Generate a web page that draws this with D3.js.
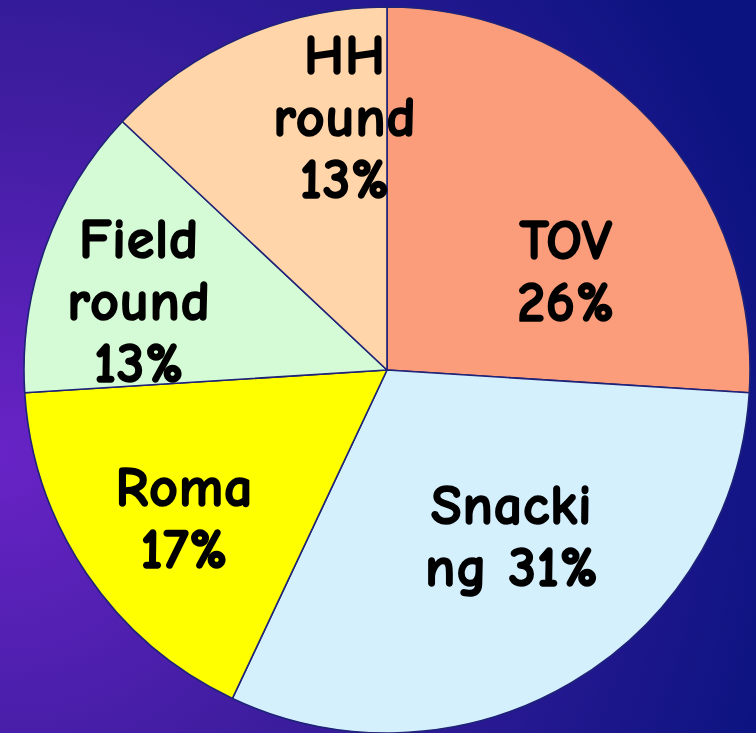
<!DOCTYPE html>
<html>
<head>
<meta charset="utf-8">
<script src="https://cdn.jsdelivr.net/npm/d3@7"></script>
<style>
  html, body { margin: 0; padding: 0; background: #0c1482; }
  svg { display: block; }
</style>
</head>
<body>
<div id="chart"></div>
<script>
// data
const categories = ['TOV', 'Snacking', 'Roma', 'Field round', 'HH round'];
const shares = [26, 31, 17, 13, 13];
const labelLines = [
  ['TOV', '26%'],
  ['Snacki', 'ng 31%'],
  ['Roma', '17%'],
  ['Field', 'round', '13%'],
  ['HH', 'round', '13%'],
];
const sliceColors = ['#fb9d7b', '#d5f0fd', '#ffff00', '#d5fbd6', '#ffd5a9'];

const width = 756;
const height = 733;
const radius = 363;
const cx = 387;
const cy = 370;
const lineHeight = 62;

// per-slice label placement (angle nudge in degrees, radius factor)
const labelNudge = [[14, 0.565], [-6.5, 0.57], [-1.8, 0.69], [-4, 0.71], [14, 0.71]];

const svg = d3.select('#chart')
  .append('svg')
  .attr('width', width)
  .attr('height', height);

// background
const defs = svg.append('defs');
const bg = defs.append('radialGradient')
  .attr('id', 'bg')
  .attr('gradientUnits', 'userSpaceOnUse')
  .attr('cx', 0).attr('cy', height * 0.62)
  .attr('r', 820);
bg.append('stop').attr('offset', '0%').attr('stop-color', '#6823c6');
bg.append('stop').attr('offset', '45%').attr('stop-color', '#3e1d9f');
bg.append('stop').attr('offset', '100%').attr('stop-color', '#0a1380');

svg.append('rect')
  .attr('width', width)
  .attr('height', height)
  .attr('fill', 'url(#bg)');

const g = svg.append('g').attr('transform', `translate(${cx},${cy})`);

const pie = d3.pie().sort(null).value((d) => d);
const arcs = pie(shares);

const arc = d3.arc().innerRadius(0).outerRadius(radius);

g.selectAll('path.slice')
  .data(arcs)
  .join('path')
  .attr('class', 'slice')
  .attr('d', arc)
  .attr('fill', (d, i) => sliceColors[i])
  .attr('stroke', '#1f2378')
  .attr('stroke-width', 1.6)
  .attr('stroke-linejoin', 'round');

// labels
const labels = g.selectAll('text.label')
  .data(arcs)
  .join('text')
  .attr('class', 'label')
  .attr('text-anchor', 'middle')
  .attr('font-family', '"Comic Sans MS", "Comic Neue", "DejaVu Sans", sans-serif')
  .attr('font-weight', 'bold')
  .attr('font-size', 56)
  .attr('letter-spacing', 0.8)
  .attr('fill', '#000')
  .attr('stroke', '#000')
  .attr('stroke-width', 1.6)
  .attr('stroke-linejoin', 'round')
  .attr('transform', (d, i) => {
    const mid = (d.startAngle + d.endAngle) / 2 + (labelNudge[i][0] * Math.PI) / 180;
    const r = radius * labelNudge[i][1];
    return `translate(${r * Math.sin(mid)},${-r * Math.cos(mid)})`;
  });

labels.each(function (d, i) {
  const lines = labelLines[i];
  const top = (-(lines.length - 1) / 2) * lineHeight;
  d3.select(this)
    .selectAll('tspan')
    .data(lines)
    .join('tspan')
    .attr('x', 0)
    .attr('y', (t, j) => top + j * lineHeight)
    .attr('dy', '0.36em')
    .text((t) => t);
});
</script>
</body>
</html>
